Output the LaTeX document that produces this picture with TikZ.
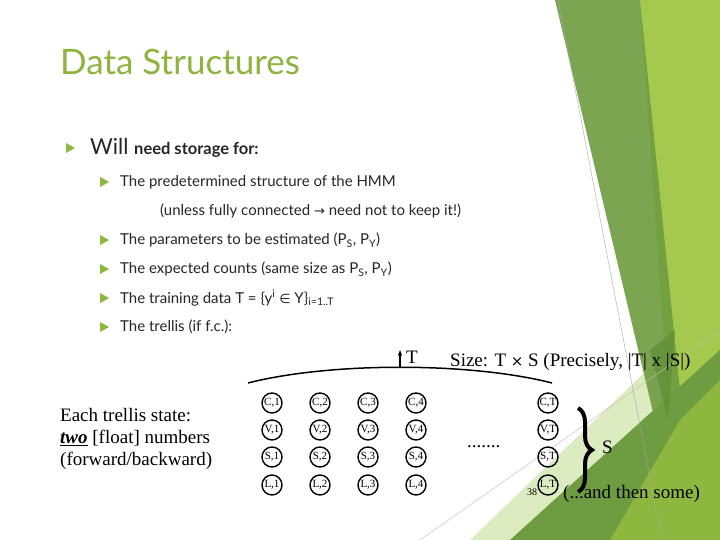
\documentclass[tikz,border=0pt]{standalone}
\usepackage{fontspec}
\setmainfont{Lato}
\newfontfamily\serifff{Liberation Serif}
\newfontfamily\dejavu{DejaVu Sans}
\usetikzlibrary{decorations.pathreplacing,arrows.meta}
\definecolor{gA}{HTML}{8DB73E}
\definecolor{gB}{HTML}{6E9C40}
\definecolor{gC}{HTML}{A5C94E}
\definecolor{gP}{HTML}{DCEBC0}
\definecolor{gD}{HTML}{5E8E35}
\definecolor{titlec}{HTML}{8EB33F}
\tikzset{
  cell/.style={circle,draw,line width=1.4pt,minimum size=20pt,inner sep=0pt,font=\serifff\fontsize{11}{11}\selectfont},
  bl/.style={font=\fontsize{15}{17}\selectfont,text=black!85,anchor=west,inner sep=0pt},
  ser/.style={font=\serifff\fontsize{19}{21}\selectfont,anchor=west,inner sep=0pt},
}
\newcommand{\mybul}[2]{\fill[gA] (#1-4,#2-5) -- (#1+5,#2) -- (#1-4,#2+5) -- cycle;}
\begin{document}
\begin{tikzpicture}[x=1pt,y=-1pt]
\useasboundingbox (0,0) rectangle (720,540);
\fill[white] (0,0) rectangle (720,540);
% background greens
\fill[gP] (470,540) -- (720,300) -- (720,540) -- cycle;
\fill[gC] (640,0) -- (720,0) -- (720,540) -- (600,540) -- (670,430) -- cycle;
\fill[gB,opacity=.9] (555,0) -- (640,0) -- (685,440) -- (662,450) -- cycle;
\fill[gB] (510,540) -- (720,350) -- (720,540) -- cycle;
\fill[gA] (610,540) -- (680,420) -- (720,380) -- (720,540) -- cycle;
\fill[gD,opacity=.7] (650,350) -- (675,330) -- (668,420) -- cycle;
\draw[black!35,thin] (558,0) -- (662,540);
\draw[black!25,thin] (420,540) -- (720,330);
% title
\node[anchor=west,text=titlec,font=\fontsize{35}{37}\selectfont,inner sep=0pt] (title) at (60,62) {Data Structures};
% bullets
\mybul{70}{148}
\node[bl,font=\fontsize{22}{24}\selectfont] (will) at (90,148) {Will \fontsize{16.5}{18}\selectfont\bfseries need storage for:};
\mybul{104}{182} \node[bl] (b1) at (120,182) {The predetermined structure of the HMM};
\node[bl] (b1b) at (160,211) {(unless fully connected {\dejavu\fontsize{13}{14}\selectfont →} need not to keep it!)};
\mybul{104}{240} \node[bl] (b2) at (120,240) {The parameters to be estimated (P\textsubscript{S}, P\textsubscript{Y})};
\mybul{104}{269} \node[bl] (b3) at (120,269) {The expected counts (same size as P\textsubscript{S}, P\textsubscript{Y})};
\mybul{104}{298} \node[bl] (b4) at (120,298) {The training data T = \{y\textsuperscript{i} {\dejavu\fontsize{13}{14}\selectfont∈} Y\}\textsubscript{i=1..T}};
\mybul{104}{327} \node[bl] (b5) at (120,327) {The trellis (if f.c.):};
% left text
\node[ser] (e1) at (60,415) {Each trellis state:};
\node[ser] (e2) at (60,438) {\textbf{\textit{\underline{two}}} [float] numbers};
\node[ser] (e3) at (60,461) {(forward/backward)};
% trellis
\foreach \c/\x in {1/272,2/320,3/368,4/416,T/548}{
  \node[cell] (C\c) at (\x,403) {C,\c};
  \node[cell] (V\c) at (\x,430) {V,\c};
  \node[cell] (S\c) at (\x,457) {S,\c};
  \node[cell] (L\c) at (\x,485) {L,\c};
}
\coordinate (a1) at (248,383);
\coordinate (a2) at (552,383);
\draw[line width=1.5pt] (a1) .. controls (330,362) and (470,362) .. (a2);
\coordinate (t0) at (400,368);
\coordinate (t1) at (400,350);
\draw[-{Stealth[length=6pt]},line width=1.3pt] (t0) -- (t1);
\node[ser] (T) at (406,357) {T};
\node[ser] (size) at (450,362) {Size: T {\dejavu\fontsize{15}{16}\selectfont×} S (Precisely, |T| x |S|)};
\node[ser] (dots) at (467,447) {.......};
\coordinate (br1) at (578,408);
\coordinate (br2) at (578,492);
\draw[decorate,decoration={brace,amplitude=14pt},line width=4pt] (br1) -- (br2);
\node[ser] (S) at (602,447) {S};
\node[ser] (some) at (563,494) {(...and then some)};
\node[ser,font=\serifff\fontsize{10}{10}\selectfont] (num) at (527,492) {38};
\end{tikzpicture}
\end{document}
